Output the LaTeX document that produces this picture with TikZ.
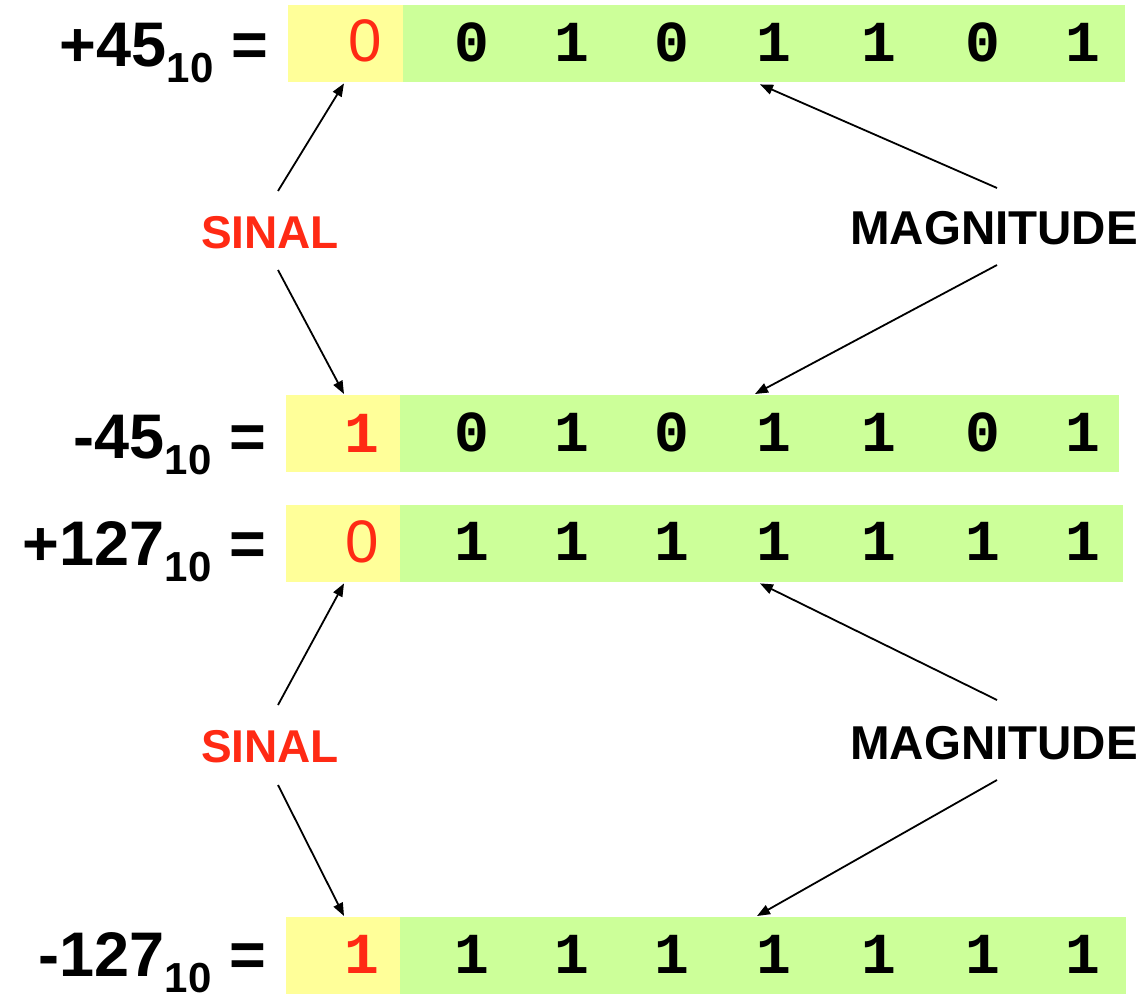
\documentclass[tikz,border=0pt]{standalone}
\usepackage{fontspec}
\setmainfont{Liberation Sans}
\newfontfamily\monof{Liberation Mono}
\usetikzlibrary{arrows.meta,calc}
\definecolor{yellowc}{HTML}{FFFF99}
\definecolor{greenc}{HTML}{CCFF99}
\definecolor{redc}{HTML}{FF2A14}
\newcommand{\subten}{\raisebox{-16pt}{\fontsize{42}{42}\selectfont 10}}
\begin{document}
\begin{tikzpicture}[x=1pt,y=-1pt,
  signbox/.style={fill=yellowc,draw=none,inner sep=0,minimum height=77pt,anchor=north west},
  magbox/.style={fill=greenc,draw=none,inner sep=0,minimum height=77pt,anchor=north west},
  lbl/.style={anchor=base east,inner sep=0,font=\fontsize{63}{70}\selectfont\bfseries},
  bit/.style={anchor=base,inner sep=0,font=\monof\bfseries\fontsize{58}{64}\selectfont},
  redsans/.style={anchor=base,inner sep=0,text=redc,font=\fontsize{60}{66}\selectfont},
  redmono/.style={bit,text=redc},
  sinaltag/.style={inner sep=0,text=redc,font=\bfseries\fontsize{46}{50}\selectfont},
  magtag/.style={inner sep=0,font=\bfseries\fontsize{47.5}{50}\selectfont},
  arr/.style={-{Triangle[length=13pt,width=10pt]},line width=1.8pt}]
\useasboundingbox (0,0) rectangle (1143,995);

% boxes
\node[signbox,minimum width=115pt] (y1) at (288,5) {};
\node[magbox,minimum width=722pt] (g1) at (403,5) {};
\node[signbox,minimum width=114pt] (y2) at (286,395) {};
\node[magbox,minimum width=719pt] (g2) at (400,395) {};
\node[signbox,minimum width=114pt] (y3) at (286,505) {};
\node[magbox,minimum width=723pt] (g3) at (400,505) {};
\node[signbox,minimum width=114pt] (y4) at (286,917) {};
\node[magbox,minimum width=726pt] (g4) at (400,917) {};

% left labels
\node[lbl] (l1) at (268,67) {+45\subten\ =};
\node[lbl] (l2) at (266,458) {-45\subten\ =};
\node[lbl] (l3) at (266,565) {+127\subten\ =};
\node[lbl] (l4) at (266,976) {-127\subten\ =};

% sign bits
\node[redsans] (s1) at (365,62) {0};
\node[redmono] (s2) at (362,452) {1};
\node[redsans] (s3) at (362,562) {0};
\node[redmono] (s4) at (362,973) {1};

% magnitude bits
\foreach \b [count=\i] in {0,1,0,1,1,0,1} {
  \pgfmathsetmacro{\xx}{{472,572,672,774,879,983,1083}[\i-1]}
  \node[bit] (m1-\i) at (\xx,62) {\b};
}
\foreach \b [count=\i] in {0,1,0,1,1,0,1} {
  \pgfmathsetmacro{\xx}{{472,572,672,774,879,983,1083}[\i-1]}
  \node[bit] (m2-\i) at (\xx,451) {\b};
}
\foreach \b [count=\i] in {1,1,1,1,1,1,1} {
  \pgfmathsetmacro{\xx}{{472,572,672,774,879,983,1083}[\i-1]}
  \node[bit] (m3-\i) at (\xx,560) {\b};
}
\foreach \b [count=\i] in {1,1,1,1,1,1,1} {
  \pgfmathsetmacro{\xx}{{472,572,672,774,879,983,1083}[\i-1]}
  \node[bit] (m4-\i) at (\xx,973) {\b};
}

% tags
\node[sinaltag] (sin1) at (270,233) {SINAL};
\node[magtag] (mag1) at (994,228) {MAGNITUDE};
\node[sinaltag] (sin2) at (270,747) {SINAL};
\node[magtag] (mag2) at (994,743) {MAGNITUDE};

% connector start points
\coordinate (sa1) at (278,191);
\coordinate (sb1) at (278,270);
\coordinate (ma1) at (997,188);
\coordinate (mb1) at (997,265);
\coordinate (sa2) at (278,705);
\coordinate (sb2) at (278,785);
\coordinate (ma2) at (997,700);
\coordinate (mb2) at (997,780);

% arrows
\draw[arr] (sa1) -- ($(y1.south west)+(56,1)$);
\draw[arr] (sb1) -- ($(y2.north west)+(58,-1)$);
\draw[arr] (ma1) -- ($(g1.south west)+(357,2)$);
\draw[arr] (mb1) -- ($(g2.north west)+(355,-1)$);
\draw[arr] (sa2) -- ($(y3.south west)+(58,1)$);
\draw[arr] (sb2) -- ($(y4.north west)+(58,-1)$);
\draw[arr] (ma2) -- ($(g3.south west)+(360,1)$);
\draw[arr] (mb2) -- ($(g4.north west)+(357,-1)$);
\end{tikzpicture}
\end{document}
